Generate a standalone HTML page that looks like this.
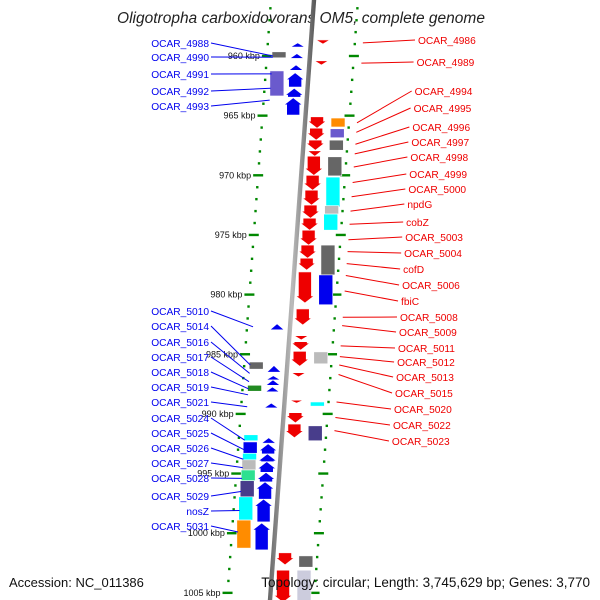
<!DOCTYPE html>
<html><head><meta charset="utf-8"><style>
body{margin:0;background:#fff}
svg{display:block;font-family:"Liberation Sans","DejaVu Sans",sans-serif}
</style></head><body>
<svg id="c" width="600" height="600" viewBox="0 0 600 600">
<text x="301" y="23" text-anchor="middle" font-size="15.5" font-style="italic" fill="#222">Oligotropha carboxidovorans OM5, complete genome</text>
<g id="g"></g>
<text x="9" y="587" font-size="13" fill="#111">Accession: NC_011386</text>
<text x="590" y="587" font-size="13.5" fill="#111" text-anchor="end">Topology: circular; Length: 3,745,629 bp; Genes: 3,770</text>
</svg>
<script>
const blueArrows=[[958.9,959.25],[959.8,960.2],[960.75,961.2],[961.4,962.6],[962.7,963.45],[963.5,964.95],[982.45,982.95],[985.95,986.5],[986.8,987.15],[987.15,987.6],[987.75,988.15],[989.1,989.5],[992.0,992.45],[992.5,993.35],[993.35,994.0],[994.0,994.9],[994.9,995.7],[995.7,997.15],[997.15,999.05],[999.15,1001.4]];
const blueBoxes=[[959.65,960.15],[961.25,963.35],[985.65,986.25],[987.6,988.1],[991.75,992.25],[992.35,993.3],[993.3,993.85],[993.85,994.7],[994.7,995.6],[995.6,996.95],[996.95,998.9],[998.9,1001.25]];
const blueBoxColors=["#666","#6a5acd","#666","#228b22","#0ff","#00e","#0ff","#bbb","#2de090","#483d8b","#0ff","#ff8c00"];
const redArrows=[[958.65,959.0],[960.4,960.75],[965.1,966.05],[966.05,967.05],[967.05,967.9],[967.95,968.4],[968.4,970.0],[970.0,971.25],[971.25,972.5],[972.5,973.6],[973.6,974.6],[974.6,975.85],[975.85,976.95],[976.95,977.95],[978.1,980.7],[981.2,982.55],[983.45,983.8],[983.95,984.65],[984.75,986.0],[986.55,986.9],[988.85,989.1],[989.9,990.75],[990.85,992.0],[1001.65,1002.65],[1003.1,1005.8]];
const redBoxes=[[965.2,965.95],[966.1,966.85],[967.05,967.9],[968.45,970.05],[970.15,972.65],[972.55,973.25],[973.25,974.6],[975.85,978.35],[978.35,980.85],[984.8,985.8],[989.0,989.35],[991.0,992.25],[1001.9,1002.85],[1003.1,1005.8]];
const redBoxColors=["#ff8c00","#6a5acd","#666","#666","#0ff","#bbb","#0ff","#666","#00e","#bbb","#0ff","#483d8b","#666","#ccd"];
const tickKbp=[960,965,970,975,980,985,990,995,1000,1005];
const leftLabels=["OCAR_4988","OCAR_4990","OCAR_4991","OCAR_4992","OCAR_4993","OCAR_5010","OCAR_5014","OCAR_5016","OCAR_5017","OCAR_5018","OCAR_5019","OCAR_5021","OCAR_5024","OCAR_5025","OCAR_5026","OCAR_5027","OCAR_5028","OCAR_5029","nosZ","OCAR_5031"];
const leftLabelY=[46,60,77,94,109,314,329,345,360,375,390,405,421,436,451,466,481,499,514,529];
const leftTargetKbp=[960.0,960.1,961.5,962.7,963.7,982.7,985.9,986.6,987.3,987.9,988.4,989.4,992.2,993.0,993.8,994.5,995.4,996.5,998.1,999.9];
const rightLabels=["OCAR_4986","OCAR_4989","OCAR_4994","OCAR_4995","OCAR_4996","OCAR_4997","OCAR_4998","OCAR_4999","OCAR_5000","npdG","cobZ","OCAR_5003","OCAR_5004","cofD","OCAR_5006","fbiC","OCAR_5008","OCAR_5009","OCAR_5011","OCAR_5012","OCAR_5013","OCAR_5015","OCAR_5020","OCAR_5022","OCAR_5023"];
const rightLabelY=[43,65,94,111,130,145,160,177,192,207,225,240,256,272,288,304,320,335,351,365,380,396,412,428,444];
const rightTargetKbp=[958.9,960.6,965.6,966.4,967.4,968.2,969.3,970.6,971.8,973.0,974.1,975.4,976.4,977.4,978.4,979.7,981.9,982.6,984.3,985.2,985.9,986.7,989.0,990.3,991.4];

const NS="http://www.w3.org/2000/svg";
const g=document.getElementById('g');
function y(k){return 56+(k-960)*11.93;}
function bx(py){return 314-0.0733*py;}
function el(t,a,p){const e=document.createElementNS(NS,t);for(const k in a)e.setAttribute(k,a[k]);(p||g).appendChild(e);return e;}

for(let k=955;k<=1006;k++){
  const py=y(k);if(py<8||py>600)continue;
  const major=k%5===0;
  [-43,44].forEach(off=>{
    const x=bx(py)+off;
    const d=el('rect',{x:major?x-5:x-1.2,y:py-1.2,width:major?10:2.4,height:2.4,fill:'#080'});
    
    
  });
}
tickKbp.forEach(k=>{
  const py=y(k);
  const t=el('text',{x:bx(py)-43-7,y:py+3,'font-size':9,'text-anchor':'end',fill:'#111'});
  t.textContent=k+' kbp';
  
  
});
const defs=el('defs',{});
const lg=el('linearGradient',{id:'bb',x1:0,x2:1,y1:0,y2:0},defs);
el('stop',{offset:0,'stop-color':'#666'},lg);el('stop',{offset:0.5,'stop-color':'#bbb'},lg);el('stop',{offset:1,'stop-color':'#555'},lg);
const bb=el('polygon',{points:`${bx(0)-2.2},0 ${bx(0)+2.2},0 ${bx(600)+2.2},600 ${bx(600)-2.2},600`,fill:'url(#bb)'});



function arrow(s,e,off,color,up,name){
  const y1=y(s),y2=y(e),h=y2-y1,c=bx((y1+y2)/2)+off;
  const w=h<7?14:18,bw=h<7?14:13,head=Math.min(h,7);
  let pts;
  if(up){pts=h<7?`${c},${y1} ${c+w/2},${y2} ${c-w/2},${y2}`:`${c},${y1} ${c+w/2},${y1+head} ${c+bw/2},${y1+head} ${c+bw/2},${y2} ${c-bw/2},${y2} ${c-bw/2},${y1+head} ${c-w/2},${y1+head}`;}
  else{pts=h<7?`${c-w/2},${y1} ${c+w/2},${y1} ${c},${y2}`:`${c-bw/2},${y1} ${c+bw/2},${y1} ${c+bw/2},${y2-head} ${c+w/2},${y2-head} ${c},${y2} ${c-w/2},${y2-head} ${c-bw/2},${y2-head}`;}
  const p=el('polygon',{points:pts,fill:color,stroke:'#fff','stroke-width':0.6});
  
  
}
function box(s,e,off,color,name){
  const y1=y(s),y2=y(e),c=bx((y1+y2)/2)+off;
  const r=el('rect',{x:c-7,y:y1,width:14,height:Math.max(2,y2-y1),fill:color,stroke:'#fff','stroke-width':0.6});
  
  
}
blueArrows.forEach(d=>arrow(d[0],d[1],-13,'#0000ee',true,'reverse-gene'));
blueBoxes.forEach((d,i)=>box(d[0],d[1],-31,blueBoxColors[i],'reverse-feature-box'));
redArrows.forEach(d=>arrow(d[0],d[1],12,'#ee0000',false,'forward-gene'));
redBoxes.forEach((d,i)=>box(d[0],d[1],33,redBoxColors[i],'forward-feature-box'));

leftLabels.forEach((l,i)=>{
  const ty=y(leftTargetKbp[i]);
  const ln=el('line',{x1:211,y1:leftLabelY[i]-3,x2:bx(ty)-37,y2:ty,stroke:'#00e','stroke-width':1});
  
  
  const t=el('text',{x:209,y:leftLabelY[i]+1,'font-size':10.2,'text-anchor':'end',fill:'#00e'});
  t.textContent=l;
  
  
});
rightLabels.forEach((l,i)=>{
  const ty=y(rightTargetKbp[i]);const lx=418-(rightLabelY[i]-43)*0.065;
  const ln=el('line',{x1:bx(ty)+52,y1:ty,x2:lx-3,y2:rightLabelY[i]-3,stroke:'#e00','stroke-width':1});
  
  
  const t=el('text',{x:lx,y:rightLabelY[i]+1,'font-size':10.2,fill:'#e00'});
  t.textContent=l;
  
  
});
</script>
</body></html>
